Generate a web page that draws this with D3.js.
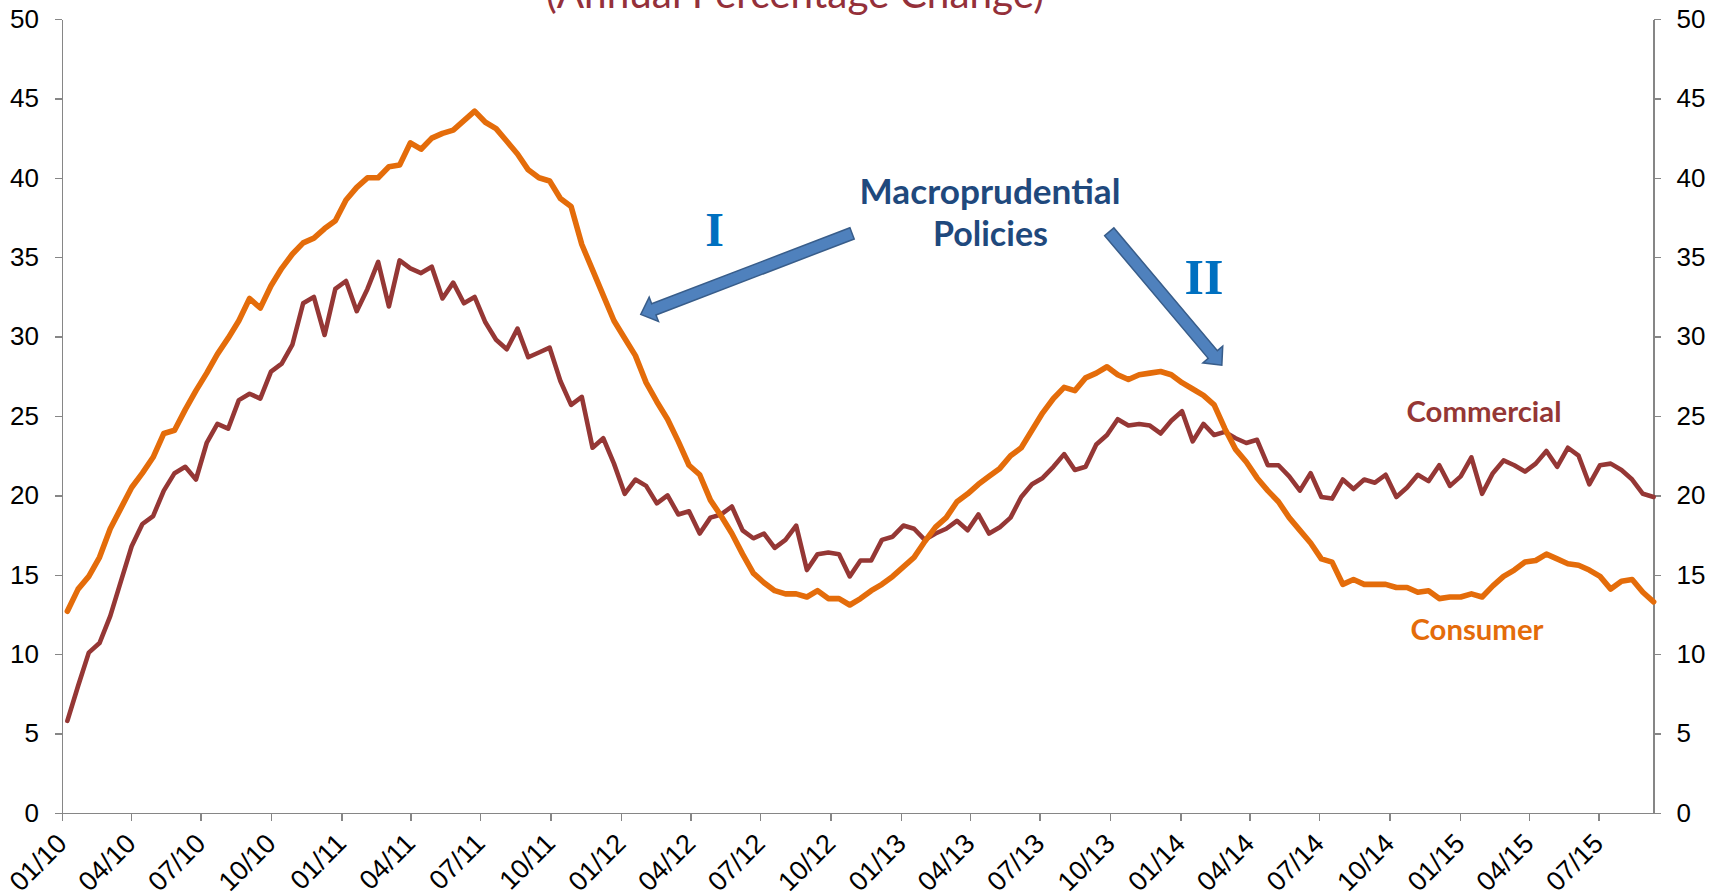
<!DOCTYPE html>
<html>
<head>
<meta charset="utf-8">
<script src="https://cdn.jsdelivr.net/npm/d3@7"></script>
<style>
  body { margin: 0; background: #fff; }
  svg { display: block; }
  .axis path, .axis line { stroke: #868686; stroke-width: 1.4; shape-rendering: crispEdges; }
  .axis text { font-family: "Liberation Sans", Arial, sans-serif; font-size: 26px; fill: #000; }
  .xaxis text { font-size: 27px; }
</style>
</head>
<body>
<div id="chart"></div>
<script>
// readings every two weeks, first point 8 Jan 2010
var startDate = new Date(2010, 0, 8);
var stepDays = 14;

var consumer = [
  12.7, 14.1, 14.9, 16.1, 17.9, 19.2, 20.5, 21.4, 22.4, 23.9,
  24.1, 25.4, 26.6, 27.7, 28.9, 29.9, 31.0, 32.4, 31.8, 33.2,
  34.3, 35.2, 35.9, 36.2, 36.8, 37.3, 38.6, 39.4, 40.0, 40.0,
  40.7, 40.8, 42.2, 41.8, 42.5, 42.8, 43.0, 43.6, 44.2, 43.5,
  43.1, 42.3, 41.5, 40.5, 40.0, 39.8, 38.7, 38.2, 35.8, 34.2,
  32.6, 31.0, 29.9, 28.8, 27.1, 25.9, 24.8, 23.4, 21.9, 21.3,
  19.7, 18.7, 17.6, 16.3, 15.1, 14.5, 14.0, 13.8, 13.8, 13.6,
  14.0, 13.5, 13.5, 13.1, 13.5, 14.0, 14.4, 14.9, 15.5, 16.1,
  17.1, 18.0, 18.6, 19.6, 20.1, 20.7, 21.2, 21.7, 22.5, 23.0,
  24.1, 25.2, 26.1, 26.8, 26.6, 27.4, 27.7, 28.1, 27.6, 27.3,
  27.6, 27.7, 27.8, 27.6, 27.1, 26.7, 26.3, 25.7, 24.2, 22.9,
  22.1, 21.1, 20.3, 19.6, 18.6, 17.8, 17.0, 16.0, 15.8, 14.4,
  14.7, 14.4, 14.4, 14.4, 14.2, 14.2, 13.9, 14.0, 13.5, 13.6,
  13.6, 13.8, 13.6, 14.3, 14.9, 15.3, 15.8, 15.9, 16.3, 16.0,
  15.7, 15.6, 15.3, 14.9, 14.1, 14.6, 14.7, 13.9, 13.3
];

var commercial = [
  5.8, 8.0, 10.1, 10.7, 12.4, 14.6, 16.8, 18.2, 18.7, 20.3,
  21.4, 21.8, 21.0, 23.3, 24.5, 24.2, 26.0, 26.4, 26.1, 27.8,
  28.3, 29.5, 32.1, 32.5, 30.1, 33.0, 33.5, 31.6, 33.0, 34.7,
  31.9, 34.8, 34.3, 34.0, 34.4, 32.4, 33.4, 32.1, 32.5, 30.9,
  29.8, 29.2, 30.5, 28.7, 29.0, 29.3, 27.2, 25.7, 26.2, 23.0,
  23.6, 22.0, 20.1, 21.0, 20.6, 19.5, 20.0, 18.8, 19.0, 17.6,
  18.6, 18.8, 19.3, 17.8, 17.3, 17.6, 16.7, 17.2, 18.1, 15.3,
  16.3, 16.4, 16.3, 14.9, 15.9, 15.9, 17.2, 17.4, 18.1, 17.9,
  17.2, 17.6, 17.9, 18.4, 17.8, 18.8, 17.6, 18.0, 18.6, 19.9,
  20.7, 21.1, 21.8, 22.6, 21.6, 21.8, 23.2, 23.8, 24.8, 24.4,
  24.5, 24.4, 23.9, 24.7, 25.3, 23.4, 24.5, 23.8, 24.0, 23.6,
  23.3, 23.5, 21.9, 21.9, 21.2, 20.3, 21.4, 19.9, 19.8, 21.0,
  20.4, 21.0, 20.8, 21.3, 19.9, 20.5, 21.3, 20.9, 21.9, 20.6,
  21.2, 22.4, 20.1, 21.4, 22.2, 21.9, 21.5, 22.0, 22.8, 21.8,
  23.0, 22.5, 20.7, 21.9, 22.0, 21.6, 21.0, 20.1, 19.9
];

var yTicks = [0, 5, 10, 15, 20, 25, 30, 35, 40, 45, 50];

// arrows: [tail date, tail value, tip date, tip value]
var arrows = [
  ["2012-10-29", 36.5, "2012-01-27", 31.4],
  ["2013-09-30", 36.6, "2014-02-24", 28.2]
];

var dates = consumer.map(function (d, i) { return d3.timeDay.offset(startDate, i * stepDays); });
var xTicks = d3.timeMonth.every(3).range(new Date(2010, 0, 1), new Date(2015, 7, 1));
var parseDay = d3.timeParse("%Y-%m-%d");

var W = 1723, H = 895;
var plotLeft = 62, plotRight = 1653.6, plotTop = 19, plotBottom = 813;

var svg = d3.select("#chart").append("svg")
  .attr("width", W)
  .attr("height", H);

var x = d3.scaleTime()
  .domain([new Date(2010, 0, 1), dates[dates.length - 1]])
  .range([plotLeft, plotRight]);
var y = d3.scaleLinear()
  .domain([0, 50])
  .range([plotBottom, plotTop]);

// axes
svg.append("g")
  .attr("class", "axis")
  .attr("transform", "translate(" + plotLeft + ",0)")
  .call(d3.axisLeft(y).tickValues(yTicks).tickSize(7).tickSizeOuter(0).tickPadding(16));

svg.append("g")
  .attr("class", "axis")
  .attr("transform", "translate(" + plotRight + ",0)")
  .call(d3.axisRight(y).tickValues(yTicks).tickSize(7).tickSizeOuter(0).tickPadding(16));

var xAxis = svg.append("g")
  .attr("class", "axis xaxis")
  .attr("transform", "translate(0," + plotBottom + ")")
  .call(d3.axisBottom(x).tickValues(xTicks).tickFormat(d3.timeFormat("%m/%y")).tickSize(8).tickSizeOuter(0));

xAxis.selectAll("text")
  .attr("y", null)
  .attr("dy", null)
  .attr("text-anchor", "end")
  .attr("transform", "translate(6,32) rotate(-45)");

// lines
var line = d3.line()
  .x(function (d, i) { return x(dates[i]); })
  .y(function (d) { return y(d); });

svg.append("path")
  .datum(commercial)
  .attr("fill", "none")
  .attr("stroke", "#953735")
  .attr("stroke-width", 4.6)
  .attr("stroke-linejoin", "round")
  .attr("stroke-linecap", "round")
  .attr("d", line);

svg.append("path")
  .datum(consumer)
  .attr("fill", "none")
  .attr("stroke", "#E46C0A")
  .attr("stroke-width", 5.6)
  .attr("stroke-linejoin", "round")
  .attr("stroke-linecap", "round")
  .attr("d", line);

// block arrows
function arrowPoints(x0, y0, x1, y1, w, hw, hl) {
  var dx = x1 - x0, dy = y1 - y0, len = Math.sqrt(dx * dx + dy * dy);
  var ux = dx / len, uy = dy / len, px = -uy, py = ux;
  var bx = x1 - ux * hl, by = y1 - uy * hl;
  var pts = [
    [x0 + px * w / 2, y0 + py * w / 2],
    [bx + px * w / 2, by + py * w / 2],
    [bx + px * hw / 2, by + py * hw / 2],
    [x1, y1],
    [bx - px * hw / 2, by - py * hw / 2],
    [bx - px * w / 2, by - py * w / 2],
    [x0 - px * w / 2, y0 - py * w / 2]
  ];
  return pts.map(function (p) { return p.join(","); }).join(" ");
}

svg.selectAll(".arrow")
  .data(arrows)
  .enter().append("polygon")
  .attr("class", "arrow")
  .attr("points", function (a) {
    return arrowPoints(x(parseDay(a[0])), y(a[1]), x(parseDay(a[2])), y(a[3]), 12, 26, 14);
  })
  .attr("fill", "#4F81BD")
  .attr("stroke", "#385D8A")
  .attr("stroke-width", 1.5);

// text, fitted to the widths seen in the picture
function addText(str, cx, by, w, fam, weight, color, size) {
  var t = svg.append("text")
    .attr("x", cx)
    .attr("y", by)
    .attr("text-anchor", "middle")
    .style("font-family", fam)
    .style("font-weight", weight)
    .style("font-size", size + "px")
    .attr("fill", color)
    .text(str);
  if (w) {
    var len = t.node().getComputedTextLength();
    t.style("font-size", (size * w / len) + "px");
  }
  return t;
}

var sans = "Lato, 'Open Sans', sans-serif";
addText("(Annual Percentage Change)", 795, 8, 498, sans, 400, "#94303A", 40);
addText("Macroprudential", 990, 204, 261, sans, 700, "#1F497D", 36);
addText("Policies", 990.5, 246, 115, sans, 700, "#1F497D", 36);
addText("Commercial", 1484, 422, 155, sans, 700, "#953735", 32);
addText("Consumer", 1477, 640, 133, sans, 700, "#E46C0A", 32);
addText("I", 714.5, 246, null, "'Liberation Serif', 'DejaVu Serif', serif", 700, "#0070C0", 48);
addText("II", 1204, 294, null, "'Liberation Serif', 'DejaVu Serif', serif", 700, "#0070C0", 50);
</script>
</body>
</html>
